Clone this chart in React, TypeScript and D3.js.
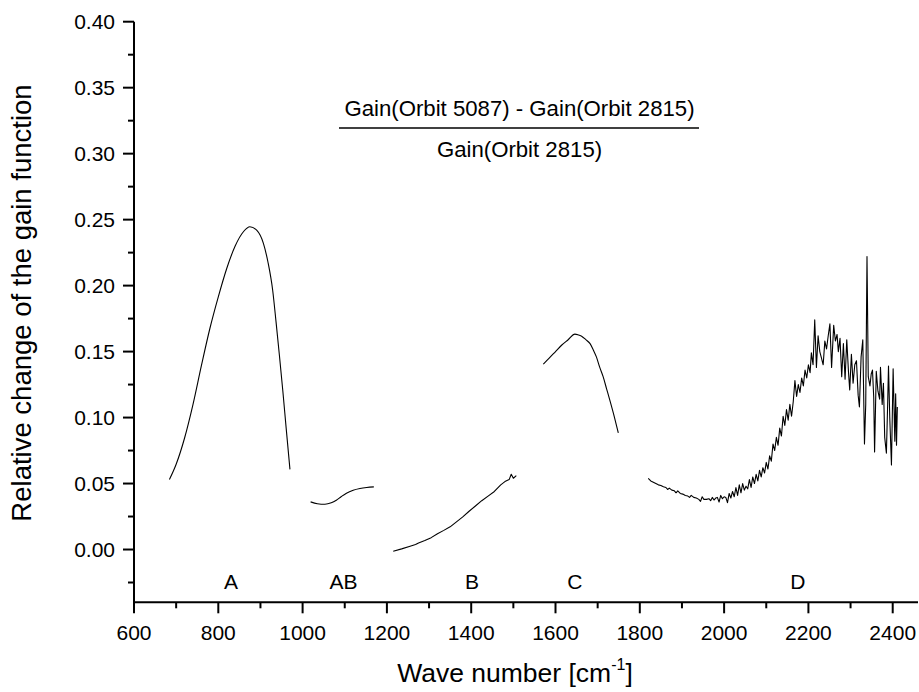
import React from "react";
import * as d3 from "d3";

const W = 919;
const H = 692;

// Region A (wave number, relative change)
const segA: [number, number][] = [
  [684, 0.053], [700, 0.0646], [720, 0.0845], [740, 0.11], [760, 0.1395], [780, 0.1675],
  [800, 0.1915], [820, 0.213], [840, 0.23], [860, 0.241], [875, 0.2446], [891, 0.242],
  [907, 0.232], [918, 0.2175], [929, 0.1965], [937, 0.1725], [945, 0.147], [953, 0.1205],
  [961, 0.092], [970, 0.0607],
];

// Region AB
const segAB: [number, number][] = [
  [1019, 0.0361], [1035, 0.0347], [1053, 0.0343], [1068, 0.0354], [1080, 0.0374],
  [1092, 0.0402], [1104, 0.0427], [1120, 0.0449], [1136, 0.0462], [1152, 0.047], [1169, 0.0475],
];

// Region B
const segB: [number, number][] = [
  [1215, -0.0013], [1235, 0.0005], [1255, 0.0025], [1268, 0.0038], [1275, 0.005], [1290, 0.0068],
  [1305, 0.009], [1320, 0.012], [1335, 0.0145], [1350, 0.0172], [1365, 0.021], [1380, 0.0247],
  [1395, 0.029], [1410, 0.033], [1425, 0.037], [1440, 0.0405], [1455, 0.044], [1470, 0.049],
  [1480, 0.0515], [1490, 0.053], [1495, 0.057], [1500, 0.054], [1507, 0.056],
];

// Region C
const segC: [number, number][] = [
  [1571, 0.1405], [1585, 0.145], [1600, 0.15], [1615, 0.155], [1630, 0.159], [1646, 0.1632],
  [1655, 0.1625], [1662, 0.1617], [1672, 0.159], [1682, 0.156], [1690, 0.151], [1697, 0.146],
  [1705, 0.138], [1713, 0.131], [1721, 0.122], [1729, 0.113], [1740, 0.1], [1749, 0.0884],
];

// Region D (noisy)
const segD: [number, number][] = [
  [1820, 0.054], [1826, 0.052], [1832, 0.051], [1838, 0.05], [1844, 0.049], [1850, 0.0485],
  [1856, 0.0475], [1862, 0.047], [1866, 0.0455], [1870, 0.0465], [1876, 0.045], [1882, 0.0445],
  [1886, 0.043], [1890, 0.0445], [1896, 0.0425], [1902, 0.042], [1908, 0.041], [1914, 0.0405],
  [1918, 0.0395], [1922, 0.041], [1928, 0.0395], [1934, 0.039], [1940, 0.038], [1944, 0.0365],
  [1948, 0.04], [1952, 0.038], [1958, 0.038], [1964, 0.0385], [1968, 0.037], [1972, 0.0395],
  [1976, 0.0375], [1980, 0.039], [1984, 0.0395], [1988, 0.036], [1992, 0.041], [1996, 0.0385],
  [2000, 0.04], [2004, 0.0395], [2008, 0.0355], [2012, 0.0425], [2016, 0.039], [2020, 0.044],
  [2024, 0.04], [2028, 0.047], [2032, 0.041], [2036, 0.049], [2040, 0.043], [2044, 0.05],
  [2048, 0.045], [2052, 0.048], [2056, 0.046], [2060, 0.053], [2064, 0.047], [2068, 0.055],
  [2072, 0.05], [2076, 0.057], [2080, 0.052], [2084, 0.06], [2088, 0.055], [2092, 0.062],
  [2096, 0.058], [2100, 0.066], [2104, 0.061], [2108, 0.071], [2112, 0.067], [2116, 0.08],
  [2120, 0.075], [2124, 0.085], [2128, 0.079], [2132, 0.092], [2136, 0.086], [2140, 0.101],
  [2144, 0.094], [2148, 0.106], [2152, 0.098], [2156, 0.11], [2160, 0.101], [2164, 0.112],
  [2168, 0.128], [2172, 0.116], [2176, 0.125], [2180, 0.119], [2184, 0.13], [2188, 0.124],
  [2192, 0.136], [2196, 0.13], [2200, 0.14], [2204, 0.134], [2207, 0.149], [2211, 0.14],
  [2215, 0.174], [2219, 0.138], [2223, 0.162], [2227, 0.15], [2231, 0.145], [2235, 0.14],
  [2239, 0.158], [2243, 0.152], [2247, 0.162], [2251, 0.171], [2255, 0.138], [2260, 0.17],
  [2264, 0.158], [2268, 0.163], [2271, 0.15], [2275, 0.16], [2279, 0.131], [2283, 0.156],
  [2287, 0.129], [2291, 0.159], [2295, 0.135], [2298, 0.121], [2302, 0.148], [2306, 0.126],
  [2310, 0.14], [2314, 0.143], [2318, 0.117], [2321, 0.108], [2325, 0.146], [2329, 0.159],
  [2333, 0.08], [2336, 0.11], [2339, 0.222], [2342, 0.131], [2346, 0.124], [2349, 0.133],
  [2352, 0.136], [2355, 0.115], [2357, 0.074], [2361, 0.135], [2365, 0.12], [2369, 0.114],
  [2371, 0.138], [2375, 0.11], [2378, 0.126], [2381, 0.085], [2385, 0.073], [2388, 0.11],
  [2390, 0.139], [2393, 0.1], [2397, 0.064], [2401, 0.137], [2405, 0.082], [2407, 0.118],
  [2409, 0.079], [2411, 0.108],
];

const xTicks = [600, 800, 1000, 1200, 1400, 1600, 1800, 2000, 2200, 2400];
const xMinorTicks = [700, 900, 1100, 1300, 1500, 1700, 1900, 2100, 2300];
const yTicks = [0.0, 0.05, 0.1, 0.15, 0.2, 0.25, 0.3, 0.35, 0.4];
const yMinorTicks = [-0.025, 0.025, 0.075, 0.125, 0.175, 0.225, 0.275, 0.325, 0.375];
const regionLabels = ["A", "AB", "B", "C", "D"];
const regionLabelX = [830, 1097, 1402, 1646, 2175];
const regionLabelY = -0.03;

const FONT = "'Liberation Sans', Arial, Helvetica, sans-serif";

export default function App() {
  const x = d3.scaleLinear().domain([600, 2460]).range([134, 918]);
  const y = d3.scaleLinear().domain([-0.04, 0.4]).range([602.3, 21.7]);
  const smooth = d3
    .line<[number, number]>()
    .x((d) => x(d[0]))
    .y((d) => y(d[1]))
    .curve(d3.curveMonotoneX);
  const rough = d3
    .line<[number, number]>()
    .x((d) => x(d[0]))
    .y((d) => y(d[1]));

  const x0 = x.range()[0];
  const y0 = y.range()[0];

  return (
    <svg
      width={W}
      height={H}
      style={{ position: "absolute", left: 0, top: 0, background: "#fff" }}
      fontFamily={FONT}
    >
      <rect width={W} height={H} fill="#fff" />
      {/* data */}
      <g fill="none" stroke="#000" strokeWidth={1.1} strokeLinejoin="round">
        <path d={smooth(segA) || ""} />
        <path d={smooth(segAB) || ""} />
        <path d={rough(segB) || ""} />
        <path d={smooth(segC) || ""} />
        <path d={rough(segD) || ""} />
      </g>

      {/* y axis */}
      <line x1={x0} x2={x0} y1={y(0.4)} y2={y0 + 1} stroke="#000" strokeWidth={2} />
      {yTicks.map((t) => (
        <g key={"yt" + t}>
          <line x1={x0 - 11} x2={x0} y1={y(t)} y2={y(t)} stroke="#000" strokeWidth={2} />
          <text x={x0 - 19} y={y(t)} dy="0.36em" textAnchor="end" fontSize={21}>
            {t.toFixed(2)}
          </text>
        </g>
      ))}
      {yMinorTicks.map((t) => (
        <line key={"ym" + t} x1={x0 - 6} x2={x0} y1={y(t)} y2={y(t)} stroke="#000" strokeWidth={2} />
      ))}

      {/* x axis */}
      <line x1={x0 - 1} x2={x.range()[1]} y1={y0} y2={y0} stroke="#000" strokeWidth={2} />
      {xTicks.map((t) => (
        <g key={"xt" + t}>
          <line x1={x(t)} x2={x(t)} y1={y0} y2={y0 + 11} stroke="#000" strokeWidth={2} />
          <text x={x(t)} y={y0 + 38} textAnchor="middle" fontSize={21}>
            {t}
          </text>
        </g>
      ))}
      {xMinorTicks.map((t) => (
        <line key={"xm" + t} x1={x(t)} x2={x(t)} y1={y0} y2={y0 + 6} stroke="#000" strokeWidth={2} />
      ))}

      {/* region labels */}
      {regionLabels.map((l, i) => (
        <text key={l} x={x(regionLabelX[i])} y={y(regionLabelY)} textAnchor="middle" fontSize={21}>
          {l}
        </text>
      ))}

      {/* fraction annotation */}
      <text x={519.5} y={116} textAnchor="middle" fontSize={22.2}>
        Gain(Orbit 5087) - Gain(Orbit 2815)
      </text>
      <line x1={339} x2={699} y1={128} y2={128} stroke="#000" strokeWidth={1.6} />
      <text x={519.5} y={157} textAnchor="middle" fontSize={22.2}>
        Gain(Orbit 2815)
      </text>

      {/* axis titles */}
      <text
        transform={`translate(31, 303) rotate(-90)`}
        textAnchor="middle"
        fontSize={27.5}
      >
        Relative change of the gain function
      </text>
      <text x={515} y={682} textAnchor="middle" fontSize={26.5}>
        Wave number [cm
        <tspan fontSize={16} dy={-12}>-1</tspan>
        <tspan dy={12}>]</tspan>
      </text>
    </svg>
  );
}
